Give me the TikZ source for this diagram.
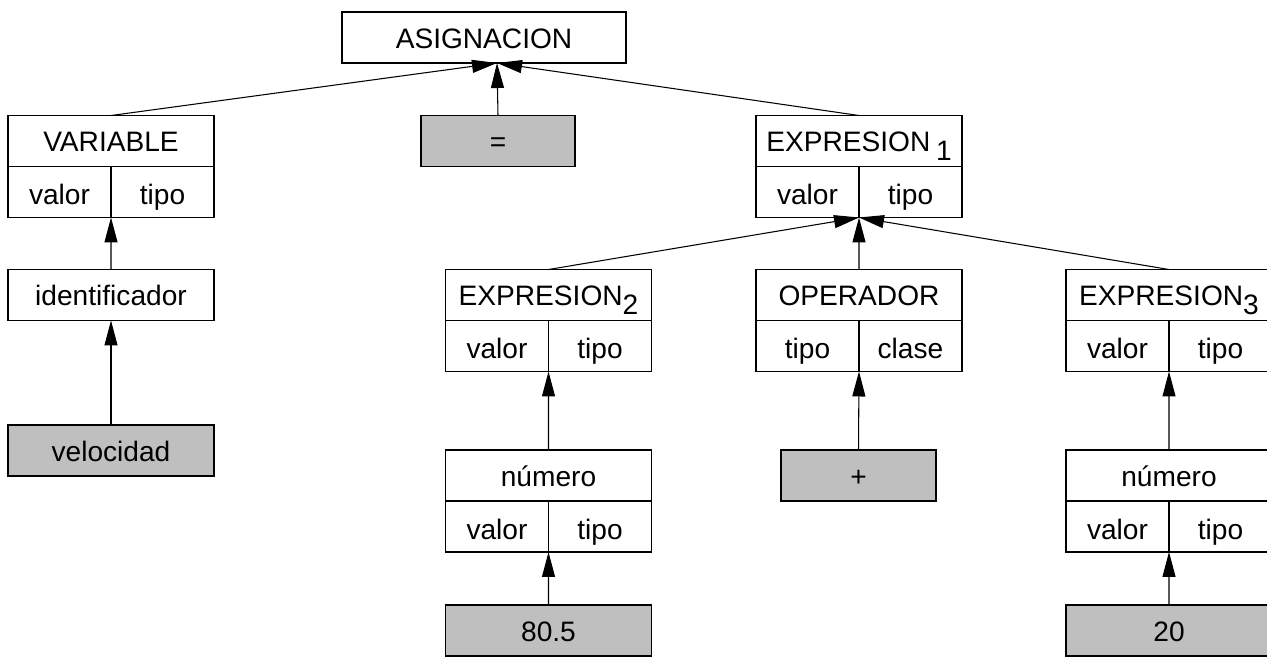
\documentclass[tikz,border=0pt]{standalone}
\usepackage{fontspec}
\setmainfont{Liberation Sans}
\usetikzlibrary{positioning,arrows.meta}
\newcommand{\bajo}[1]{\raisebox{-0.32em}{#1}}
\begin{document}
\begin{tikzpicture}[x=0.02cm, y=-0.02cm,
    caja/.style={draw, line width=0.7pt, inner sep=0pt, outer sep=0pt,
      minimum width=4.12cm, minimum height=1.02cm,
      text height=12.5pt, text depth=0pt, font=\fontsize{16}{19}\selectfont},
    campo/.style={caja, minimum width=2.06cm, text height=14.7pt},
    hoja/.style={caja, fill=black!25},
    flecha/.style={line width=0.6pt, -{Triangle[length=0.5cm,width=0.26cm]}}]
    \useasboundingbox (0,0) rectangle (1267,656);

    % Raiz
    \node[caja, minimum width=5.68cm] (asig) at (484,37.5) {ASIGNACION};
    \coordinate (asig-in) at ([xshift=0.26cm]asig.south);

    % Rama izquierda: VARIABLE
    \node[caja] (var) at (111,141) {VARIABLE};
    \node[campo, below right=0pt of var.south west] (var-v) {valor};
    \node[campo, below left=0pt of var.south east] (var-t) {tipo};
    \node[caja] (ident) at (111,295) {identificador};
    \node[hoja] (vel) at (111,450.5) {velocidad};

    % Signo de asignacion
    \node[hoja, minimum width=3.08cm] (igual) at (498,141) {=};

    % Rama derecha: EXPRESION 1
    \node[caja] (exp1) at (859,141) {EXPRESION\hspace{0.2em}\bajo{1}};
    \node[campo, below right=0pt of exp1.south west] (exp1-v) {valor};
    \node[campo, below left=0pt of exp1.south east] (exp1-t) {tipo};

    % EXPRESION 2
    \node[caja] (exp2) at (548.5,295) {EXPRESION\bajo{2}};
    \node[campo, below right=0pt of exp2.south west] (exp2-v) {valor};
    \node[campo, below left=0pt of exp2.south east] (exp2-t) {tipo};
    \node[caja] (num2) at (548.5,475.5) {número};
    \node[campo, below right=0pt of num2.south west] (num2-v) {valor};
    \node[campo, below left=0pt of num2.south east] (num2-t) {tipo};
    \node[hoja] (real) at (548.5,630.5) {80.5};

    % OPERADOR
    \node[caja] (oper) at (859,295) {OPERADOR};
    \node[campo, below right=0pt of oper.south west] (oper-t) {tipo};
    \node[campo, below left=0pt of oper.south east] (oper-c) {clase};
    \node[hoja, minimum width=3.1cm] (mas) at (858.5,475.5) {+};

    % EXPRESION 3
    \node[caja] (exp3) at (1169,295) {EXPRESION\bajo{3}};
    \node[campo, below right=0pt of exp3.south west] (exp3-v) {valor};
    \node[campo, below left=0pt of exp3.south east] (exp3-t) {tipo};
    \node[caja] (num3) at (1169,475.5) {número};
    \node[campo, below right=0pt of num3.south west] (num3-v) {valor};
    \node[campo, below left=0pt of num3.south east] (num3-t) {tipo};
    \node[hoja] (ent) at (1169,630.5) {20};

    % Flechas hacia los padres
    \draw[flecha] (var.north) -- (asig-in);
    \draw[flecha] (igual.north) -- (asig-in);
    \draw[flecha] (exp1.north) -- (asig-in);
    \draw[flecha] (ident.north) -- (var-v.south east);
    \draw[flecha] (vel.north) -- (ident.south);
    \draw[flecha] (exp2.north) -- (exp1-v.south east);
    \draw[flecha] (oper.north) -- (exp1-v.south east);
    \draw[flecha] (exp3.north) -- (exp1-v.south east);
    \draw[flecha] (num2.north) -- (exp2-v.south east);
    \draw[flecha] (real.north) -- (num2-v.south east);
    \draw[flecha] (mas.north) -- (oper-t.south east);
    \draw[flecha] (num3.north) -- (exp3-v.south east);
    \draw[flecha] (ent.north) -- (num3-v.south east);
  \end{tikzpicture}
\end{document}
